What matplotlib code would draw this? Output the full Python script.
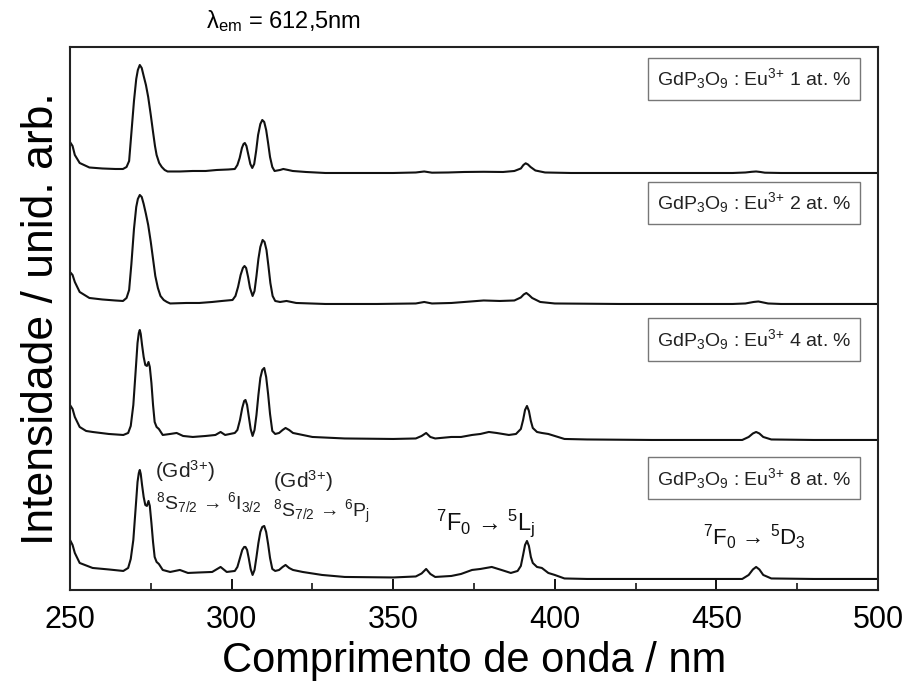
import numpy as np
import matplotlib
matplotlib.use("Agg")
import matplotlib.pyplot as plt
from matplotlib.ticker import MultipleLocator

plt.rcParams['font.family'] = ['Liberation Sans', 'DejaVu Sans']
plt.rcParams['mathtext.fontset'] = 'custom'
plt.rcParams['mathtext.rm'] = 'Liberation Sans'
plt.rcParams['mathtext.it'] = 'Liberation Sans:italic'
plt.rcParams['mathtext.bf'] = 'Liberation Sans:bold'

# excitation spectra (wavelength nm, intensity a.u.), one list per Eu3+ content
spec_1 = [(250, 31), (250.8, 27), (251.5, 18), (253, 10), (256, 5.5), (260, 4.5), (264, 4),
          (266.4, 4), (267.5, 6), (268.3, 12), (269, 40), (269.8, 72), (270.5, 94), (271, 103),
          (271.6, 108), (272.2, 105), (272.8, 97), (273.5, 88), (274.2, 76), (275, 58),
          (275.7, 41), (276.3, 27), (276.8, 18), (277.6, 10), (278.4, 6), (279.3, 3), (280.2, 1.5),
          (284, 1.5), (288, 2), (292, 2), (295.4, 3), (299, 3.5), (301, 4), (301.8, 8),
          (302.5, 15), (303.2, 25), (303.7, 29), (304.1, 30), (304.6, 27), (305.2, 18), (305.8, 9),
          (306.4, 5), (307, 9), (307.6, 22), (308.2, 38), (308.9, 49), (309.5, 53), (310.1, 51),
          (310.7, 43), (311.3, 30), (311.9, 16), (312.6, 6), (313.3, 2), (315, 3), (316, 4),
          (317.5, 3), (318.9, 2), (323, 1), (329, 0), (340, 0), (350, 0), (357, 0.5), (359.6, 1.5),
          (362, 0.3), (367, 0.5), (372, 1), (378, 1.2), (384, 1), (387.5, 2), (389.5, 4.5),
          (390.3, 8), (391, 9.7), (391.7, 8.5), (392.5, 6), (394, 2.5), (397, 0.5), (405, 0),
          (420, 0), (440, 0), (455, 0), (459, 0.5), (461, 1.2), (462.3, 1.5), (463.6, 1),
          (465, 0.3), (470, 0), (500, 0)]

spec_2 = [(250, 32), (250.8, 29), (251.5, 22), (253, 12), (256, 6), (260, 4.5), (264, 3.5),
          (266.4, 3), (267.5, 6), (268.3, 14), (269, 40), (269.8, 75), (270.5, 97), (271, 105),
          (271.6, 109), (272.2, 107), (272.8, 100), (273.5, 90), (274.2, 79), (275, 62),
          (275.7, 45), (276.4, 28), (277.2, 16), (278, 8), (279, 4), (280, 2), (281, 0.5),
          (286, 1), (290, 1), (294, 2), (297, 3), (300.3, 4), (301.2, 8), (302, 17), (302.8, 29),
          (303.5, 36), (304, 38), (304.5, 36), (305.1, 27), (305.7, 16), (306.5, 8), (307.1, 13),
          (307.7, 28), (308.3, 45), (308.9, 57), (309.6, 64), (310.2, 62), (310.8, 54),
          (311.4, 38), (312, 21), (312.7, 8), (313.5, 3), (315, 2), (317, 3), (320, 1), (329, 0),
          (345, 0), (357, 0.5), (359.6, 2), (362, 0.5), (368, 1), (374, 2.5), (378, 3.5),
          (383, 3), (387.5, 3.5), (389.5, 6.5), (390.4, 9.5), (391.2, 11), (392, 9), (393, 6),
          (395.5, 2), (400, 0.5), (420, 0), (455, 0), (459, 0.5), (461.5, 2), (463, 2.5),
          (464.5, 1.5), (466, 0.5), (470, 0), (500, 0)]

spec_4 = [(250, 35), (250.8, 31), (251.5, 23), (253, 13), (255, 9), (257, 8), (262, 6),
          (266.5, 5), (268, 7), (268.8, 14), (269.6, 35), (270.3, 68), (270.9, 97), (271.3, 107),
          (271.6, 110), (271.9, 106), (272.3, 95), (272.8, 83), (273.3, 75), (273.8, 74),
          (274.3, 78), (274.7, 73), (275.2, 57), (275.7, 35), (276.2, 18), (276.8, 13),
          (277.5, 11), (278.7, 5), (281, 6), (283, 7), (285, 4), (288, 3), (292, 4), (295, 5),
          (296.6, 8), (298, 5), (301, 7), (301.8, 10), (302.6, 20), (303.3, 32), (303.9, 39),
          (304.3, 40), (304.8, 35), (305.3, 24), (305.9, 11), (306.5, 4), (307.1, 10), (307.7, 25),
          (308.3, 45), (308.9, 62), (309.5, 70), (310.1, 72), (310.7, 63), (311.3, 46),
          (311.9, 26), (312.6, 9), (313.5, 6), (314.7, 7), (315.8, 10), (316.7, 12), (317.8, 10),
          (319, 7), (322, 5), (325, 3), (335, 1.5), (350, 1), (357, 1.5), (358.8, 4), (360.2, 7),
          (361.5, 3), (363, 1.5), (368, 3), (371, 3), (374.4, 5), (377, 6), (379.6, 8), (382, 7),
          (385.8, 5), (388, 6), (389.5, 11), (390.2, 20), (390.8, 30), (391.4, 34), (392, 29),
          (392.6, 19), (393.2, 12), (394.5, 8), (396, 7), (398, 6), (400, 4), (403, 1),
          (410, 0.5), (430, 0), (458, 0), (460, 3), (461.3, 6.5), (462.3, 8), (463.3, 6.5),
          (464.5, 3), (467, 0.5), (480, 0), (500, 0)]

spec_8 = [(250, 39), (250.8, 34), (251.5, 26), (253, 16), (257, 11), (262, 9.5), (266.5, 8),
          (268, 11), (268.8, 20), (269.6, 39), (270.3, 70), (270.9, 97), (271.3, 106),
          (271.6, 109), (271.9, 105), (272.3, 94), (272.8, 82), (273.3, 74), (273.8, 73),
          (274.3, 78), (274.7, 73), (275.2, 56), (275.7, 37), (276.2, 22), (276.8, 17),
          (277.5, 15), (278.7, 9), (281, 7), (284, 9), (286.5, 6), (290, 6.5), (294, 7),
          (296.6, 12), (298.5, 7), (301, 8), (301.8, 12), (302.6, 21), (303.3, 29), (303.9, 32),
          (304.3, 32), (304.8, 29), (305.3, 21), (305.9, 10), (306.5, 4), (307.1, 9), (307.7, 22),
          (308.3, 36), (308.9, 47), (309.5, 52), (310.1, 53), (310.7, 47), (311.3, 35),
          (311.9, 21), (312.6, 10), (313.5, 8), (314.7, 9), (315.8, 12), (316.7, 14),
          (317.8, 11), (319, 9), (322, 7), (328, 4), (335, 2), (350, 1.5), (357, 2.5),
          (358.8, 5.5), (360.2, 10), (361.5, 5), (363, 2), (368, 3), (371, 5), (374.4, 9),
          (377, 10), (380.5, 12), (383.5, 9), (386.4, 6), (388.5, 8), (389.5, 13), (390.2, 24),
          (390.8, 34), (391.4, 38), (392, 33), (392.6, 22), (393.2, 16), (394.5, 12), (396, 11),
          (398, 6), (400, 4), (403, 0.5), (410, 0), (430, 0), (458, 0), (460, 4), (461.3, 9.5),
          (462.3, 12), (463.3, 9.5), (464.5, 4), (467, 0.5), (480, 0), (500, 0)]

spectra = [spec_1, spec_2, spec_4, spec_8]
concentrations = ['1', '2', '4', '8']
offsets = [417, 286, 150, 11]

fig = plt.figure(figsize=(9.1, 6.86), dpi=100)
ax = fig.add_axes([0.0769, 0.140, 0.8879, 0.7915])

for spec, off in zip(spectra, offsets):
    wl, inten = np.array(spec).T
    ax.plot(wl, inten + off, color='#111111', lw=1.5, solid_joinstyle='round')

# sample labels in boxes
label_y = [0.941, 0.713, 0.461, 0.206]
for conc, ly in zip(concentrations, label_y):
    ax.text(0.7265, ly,
            r'GdP$_{3}$O$_{9}$ : Eu$^{3{+}}$ ' + conc + ' at. %',
            transform=ax.transAxes, fontsize=14, color='#222222',
            ha='left', va='center',
            bbox=dict(boxstyle='square,pad=0.45', fc='white', ec='#777777', lw=1.0))

# transition assignments
ax.text(276.2, 112, r'(Gd$^{3{+}}$)', fontsize=15, color='#222222')
ax.text(276.6, 81, r'${}^{8}$S$_{7/2}$ → ${}^{6}$I$_{3/2}$', fontsize=14, color='#222222')
ax.text(312.7, 102, r'(Gd$^{3{+}}$)', fontsize=15, color='#222222')
ax.text(312.7, 73, r'${}^{8}$S$_{7/2}$ → ${}^{6}$P$_{\mathrm{j}}$', fontsize=14, color='#222222')
ax.text(363.3, 60, r'${}^{7}$F$_{0}$ → ${}^{5}$L$_{\mathrm{j}}$', fontsize=17, color='#111111')
ax.text(446.0, 45, r'${}^{7}$F$_{0}$ → ${}^{5}$D$_{3}$', fontsize=16, color='#111111')

ax.set_xlim(250, 500)
ax.set_ylim(0, 543)
ax.xaxis.set_major_locator(MultipleLocator(50))
ax.xaxis.set_minor_locator(MultipleLocator(25))
ax.tick_params(axis='x', which='major', direction='in', length=8, width=1.3,
               labelsize=22, pad=11)
ax.tick_params(axis='x', which='minor', direction='in', length=5, width=1.1)
ax.set_yticks([])
for s in ax.spines.values():
    s.set_linewidth(1.5)
    s.set_color('#222222')

ax.set_xlabel('Comprimento de onda / nm', fontsize=30, labelpad=4)
ax.set_ylabel('Intensidade / unid. arb.', fontsize=32, labelpad=6)

fig.text(0.311, 0.970, r'λ$_{\mathrm{em}}$ = 612,5nm', fontsize=17,
         ha='center', va='center')

fig.savefig('out.png', dpi=100)
